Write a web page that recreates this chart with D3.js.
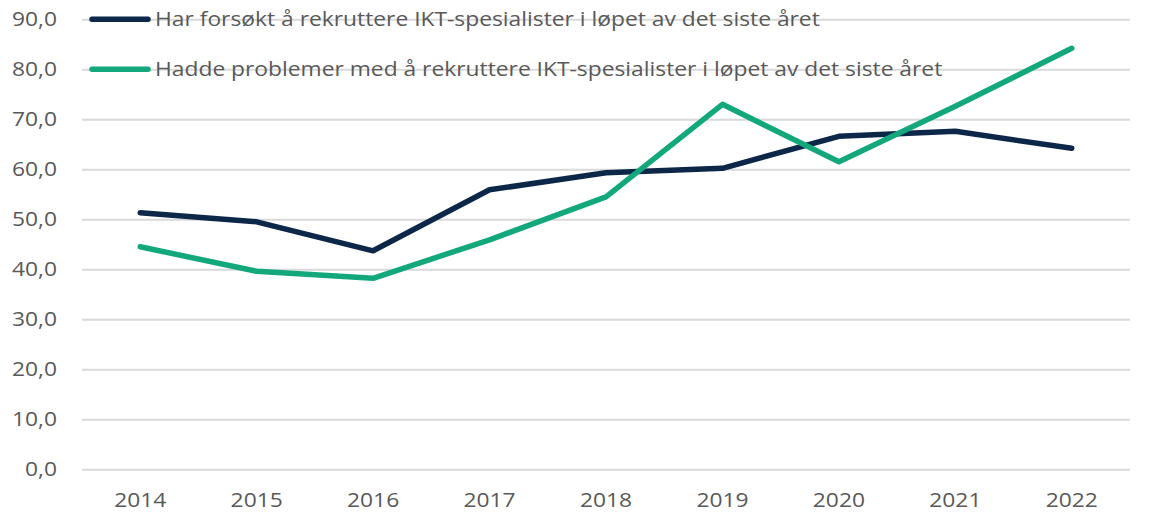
<!DOCTYPE html>
<html><head><meta charset="utf-8">
<script src="https://cdn.jsdelivr.net/npm/d3@7"></script>
<style>body{margin:0;background:#fff}svg{display:block}</style>
</head><body><svg id="c" width="1150" height="532"></svg>
<script>
const years = ["2014","2015","2016","2017","2018","2019","2020","2021","2022"];
const seriesNames = [
  "Har forsøkt å rekruttere IKT-spesialister i løpet av det siste året",
  "Hadde problemer med å rekruttere IKT-spesialister i løpet av det siste året"
];
const forsokt = [51.3, 49.5, 43.7, 55.9, 59.3, 60.2, 66.6, 67.6, 64.2];
const problemer = [44.5, 39.6, 38.2, 45.9, 54.5, 73.0, 61.5, 72.6, 84.2];
const yTicks = [0,10,20,30,40,50,60,70,80,90];
const colors = ["#0c2748", "#13a87c"];

(function(){
const svg = d3.select("#c");
const mLeft = 82, mRight = 1130, mTop = 19.3, mBottom = 469.3;
const x = d3.scaleBand().domain(years).range([mLeft, mRight]);
const y = d3.scaleLinear().domain([0, 90]).range([mBottom, mTop]);
const font = "'Open Sans', Lato, sans-serif";
const widen = 1.14;
function stretch(sel){
  sel.each(function(){
    const w = this.getComputedTextLength();
    d3.select(this).attr("textLength", w*widen).attr("lengthAdjust", "spacingAndGlyphs");
  });
}

const yAxis = d3.axisLeft(y).tickValues(yTicks).tickSize(-(mRight-mLeft)).tickFormat(d => d3.format(".1f")(d).replace(".", ","));
const gy = svg.append("g").attr("transform", `translate(${mLeft},0)`).call(yAxis);
gy.select(".domain").remove();
gy.selectAll(".tick line").attr("stroke", "#d9d9d9").attr("stroke-width", 2);
gy.selectAll(".tick text").attr("x", -25).attr("fill", "#595959").style("font-family", font).style("font-size", "20px").call(stretch);

const xAxis = d3.axisBottom(x).tickSize(0);
const gx = svg.append("g").attr("transform", `translate(0,${mBottom})`).call(xAxis);
gx.select(".domain").remove();
gx.selectAll(".tick text").attr("dy", 0).attr("y", 38).attr("fill", "#595959").style("font-family", font).style("font-size", "20px").call(stretch);

const line = d3.line().x((d,i) => x(years[i]) + x.bandwidth()/2).y(d => y(d));
[forsokt, problemer].forEach((s, k) => {
  svg.append("path").datum(s).attr("d", line).attr("fill", "none")
    .attr("stroke", colors[k]).attr("stroke-width", 5.5).attr("stroke-linejoin", "round").attr("stroke-linecap", "round");
});

const lg = svg.append("g");
seriesNames.forEach((n, k) => {
  const yy = y(90 - k*10);
  lg.append("line").attr("x1", 92).attr("x2", 148).attr("y1", yy).attr("y2", yy)
    .attr("stroke", colors[k]).attr("stroke-width", 5.5).attr("stroke-linecap", "round");
  lg.append("text").attr("x", 155).attr("y", yy).attr("dy", "0.35em").text(n)
    .attr("fill", "#595959").style("font-family", font).style("font-size", "20px").call(stretch);
});
})();
</script></body></html>
